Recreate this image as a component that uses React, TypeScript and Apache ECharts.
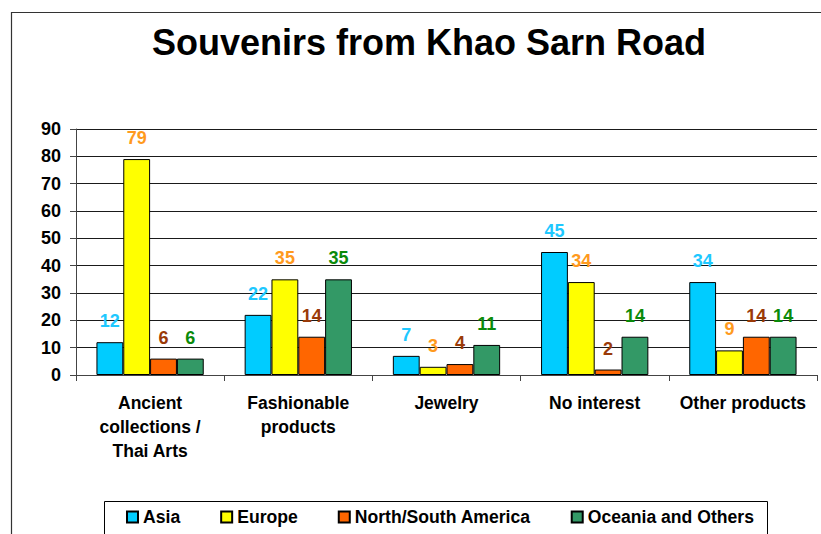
import React, { useEffect, useRef } from "react";
import * as echarts from "echarts";

const categories = [
  "Ancient\ncollections /\nThai Arts",
  "Fashionable\nproducts",
  "Jewelry",
  "No interest",
  "Other products",
];
const seriesNames = ["Asia", "Europe", "North/South America", "Oceania and Others"];
const asia = [12, 22, 7, 45, 34];
const europe = [79, 35, 3, 34, 9];
const americas = [6, 14, 4, 2, 14];
const oceania = [6, 35, 11, 14, 14];
const yTicks = { min: 0, max: 90, interval: 10 };

const FONT = "'Liberation Sans', Arial, Helvetica, sans-serif";
const barColors = ["#00CCFF", "#FFFF00", "#FF6600", "#339966"];
const labelColors = ["#1EC8FF", "#FF9A1E", "#9A3A08", "#0A8A0A"];

export default function App() {
  const ref = useRef<HTMLDivElement>(null);

  useEffect(() => {
    if (!ref.current) return;
    const chart = echarts.init(ref.current, null, { renderer: "svg" });
    const values = [asia, europe, americas, oceania];

    chart.setOption({
      animation: false,
      backgroundColor: "#ffffff",
      textStyle: { fontFamily: FONT },
      title: {
        text: "Souvenirs from Khao Sarn Road",
        left: 152,
        top: 24,
        padding: 0,
        textStyle: { fontFamily: FONT, fontSize: 36, fontWeight: "bold", color: "#000" },
      },
      graphic: [
        {
          type: "rect",
          shape: { x: 11.5, y: 12.5, width: 900, height: 600 },
          style: { fill: "none", stroke: "#333", lineWidth: 1.2 },
          silent: true,
          z: -10,
        },
        {
          type: "rect",
          shape: { x: 104.5, y: 501.5, width: 663, height: 60 },
          style: { fill: "#fff", stroke: "#000", lineWidth: 1 },
          silent: true,
          z: 5,
        },
      ],
      legend: {
        data: seriesNames,
        left: 126,
        top: 508,
        padding: 0,
        itemGap: 40,
        itemWidth: 11,
        itemHeight: 11,
        icon: "rect",
        z: 10,
        textStyle: { fontFamily: FONT, fontSize: 17.6, fontWeight: "bold", color: "#000", lineHeight: 18 },
      },
      grid: { left: 76, right: 4, top: 129, bottom: 159, containLabel: false },
      xAxis: {
        type: "category",
        data: categories,
        axisLine: { lineStyle: { color: "#444", width: 1 } },
        axisTick: { show: true, length: 6, alignWithLabel: false, lineStyle: { color: "#444" } },
        axisLabel: {
          interval: 0,
          margin: 16,
          fontFamily: FONT,
          fontSize: 17.5,
          fontWeight: "bold",
          color: "#000",
          lineHeight: 24,
        },
      },
      yAxis: {
        type: "value",
        min: yTicks.min,
        max: yTicks.max,
        interval: yTicks.interval,
        axisLine: { show: true, lineStyle: { color: "#444", width: 1 } },
        axisTick: { show: true, length: 6, lineStyle: { color: "#444" } },
        splitLine: { show: true, lineStyle: { color: "#1a1a1a", width: 1 } },
        axisLabel: {
          margin: 15,
          fontFamily: FONT,
          fontSize: 18,
          fontWeight: "bold",
          color: "#000",
        },
      },
      series: seriesNames.map((name, i) => ({
        name,
        type: "bar",
        data: values[i],
        barGap: "0%",
        barCategoryGap: "27.6%",
        itemStyle: { color: barColors[i], borderColor: "#000", borderWidth: 1 },
        label: {
          show: true,
          position: "top",
          distance: 12,
          fontFamily: FONT,
          fontSize: 18,
          fontWeight: "bold",
          color: labelColors[i],
        },
      })),
    });

    return () => chart.dispose();
  }, []);

  return (
    <div
      ref={ref}
      style={{ position: "fixed", left: 0, top: 0, width: 821, height: 534, background: "#fff" }}
    />
  );
}
